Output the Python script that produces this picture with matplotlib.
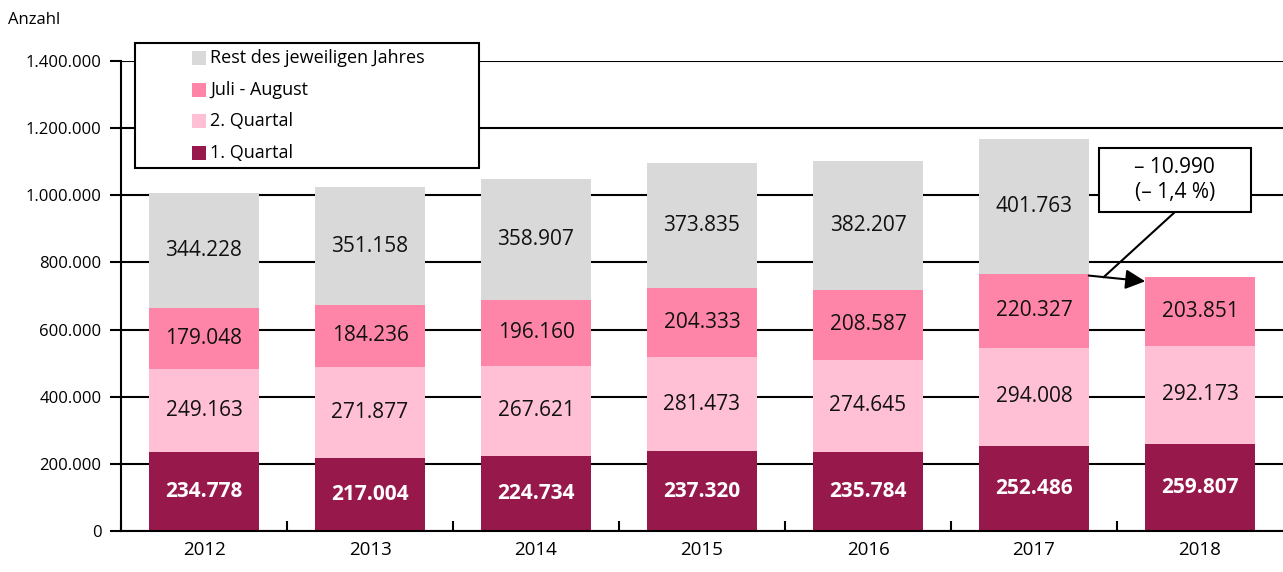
import matplotlib.pyplot as plt
from matplotlib.patches import Rectangle
from matplotlib.ticker import FuncFormatter

plt.rcParams['font.family'] = ['Open Sans', 'DejaVu Sans']

years = ['2012', '2013', '2014', '2015', '2016', '2017', '2018']
q1 = [234778, 217004, 224734, 237320, 235784, 252486, 259807]
q2 = [249163, 271877, 267621, 281473, 274645, 294008, 292173]
jul_aug = [179048, 184236, 196160, 204333, 208587, 220327, 203851]
rest = [344228, 351158, 358907, 373835, 382207, 401763, None]

labels = ['Rest des jeweiligen Jahres', 'Juli - August', '2. Quartal', '1. Quartal']
colors = ['#D9D9D9', '#FF85A8', '#FFBFD4', '#97194C']
change_text = '\u2013 10.990\n(\u2013 1,4 %)'


def fmt(v):
    return f'{v:,.0f}'.replace(',', '.')


W, H = 1283, 572
fig = plt.figure(figsize=(W / 100, H / 100), dpi=100)
ax = fig.add_axes([121 / W, 1 - 531 / H, 1 - 121 / W, (531 - 61) / H])

x = list(range(len(years)))
width = 0.66
bottoms = [0] * len(years)
series = [(q1, colors[3]), (q2, colors[2]), (jul_aug, colors[1]), (rest, colors[0])]
for k, (vals, col) in enumerate(series):
    for i, v in enumerate(vals):
        if v is None:
            continue
        ax.bar(x[i], v, width, bottom=bottoms[i], color=col, zorder=2)
        if k == 0:
            ax.text(x[i], bottoms[i] + v / 2, fmt(v), ha='center', va='center',
                    color='white', fontsize=15, fontweight='bold', zorder=3)
        else:
            ax.text(x[i], bottoms[i] + v / 2, fmt(v), ha='center', va='center',
                    color='#111111', fontsize=15, zorder=3)
        bottoms[i] += v

ax.set_xlim(-0.5, len(years) - 0.5)
ax.set_ylim(0, 1400000)
ax.set_yticks(range(0, 1400001, 200000))
ax.yaxis.set_major_formatter(FuncFormatter(lambda v, p: fmt(v)))
ax.yaxis.grid(True, color='black', linewidth=1.5, zorder=0)
ax.set_axisbelow(True)
ax.set_xticks([i + 0.5 for i in x[:-1]] + [-0.5])
ax.set_xticklabels([])
ax.set_xticks(x, minor=True)
ax.set_xticklabels(years, minor=True, fontsize=13.5)
ax.tick_params(axis='x', which='minor', length=0, pad=7)
ax.tick_params(axis='x', which='major', length=7, width=1.5, direction='in')
ax.tick_params(axis='y', length=8, width=1.5, labelsize=12, pad=6)
for side in ['top', 'right']:
    ax.spines[side].set_visible(False)
for side in ['left', 'bottom']:
    ax.spines[side].set_linewidth(1.5)

# arrow from 2017 to 2018 (same period of the year)
prev_total = q1[5] + q2[5] + jul_aug[5]
cur_total = q1[6] + q2[6] + jul_aug[6]
ax.annotate('', xy=(6 - width / 2, cur_total - 12000), xytext=(5 + width / 2, prev_total - 6000),
            arrowprops=dict(arrowstyle='-|>', color='black', lw=1.5,
                            mutation_scale=30, shrinkA=0, shrinkB=0), zorder=4)
mid_x = 5 + width / 2 + 0.09
mid_y = prev_total - 6000 + (cur_total - prev_total - 6000) * 0.09 / (1 - width)

# annotation box with the change
box_x0, box_x1 = 5.39, 6.307
box_y0, box_y1 = 950000, 1141000
ax.add_patch(Rectangle((box_x0, box_y0), box_x1 - box_x0, box_y1 - box_y0,
                       fc='white', ec='black', lw=1.5, zorder=5))
ax.text((box_x0 + box_x1) / 2, (box_y0 + box_y1) / 2, change_text, ha='center', va='center',
        fontsize=15, linespacing=1.25, zorder=6)
ax.plot([(box_x0 + box_x1) / 2, mid_x], [box_y0, mid_y], color='black', lw=1.5, zorder=4)

# legend box
fig.add_artist(Rectangle((135 / W, 1 - 168 / H), (479 - 135) / W, (168 - 43) / H,
                         transform=fig.transFigure, fc='white', ec='black', lw=1.5, zorder=10))
for j, (lab, col) in enumerate(zip(labels, colors)):
    yc = 58 + j * 31.7
    fig.add_artist(Rectangle((192 / W, 1 - (yc + 7) / H), 14 / W, 14 / H,
                             transform=fig.transFigure, fc=col, ec='none', zorder=11))
    fig.text(210 / W, 1 - yc / H, lab, ha='left', va='center', fontsize=13, zorder=12)

fig.text(8 / W, 1 - 20 / H, 'Anzahl', ha='left', va='center', fontsize=12)

fig.savefig('out.png', dpi=100)
